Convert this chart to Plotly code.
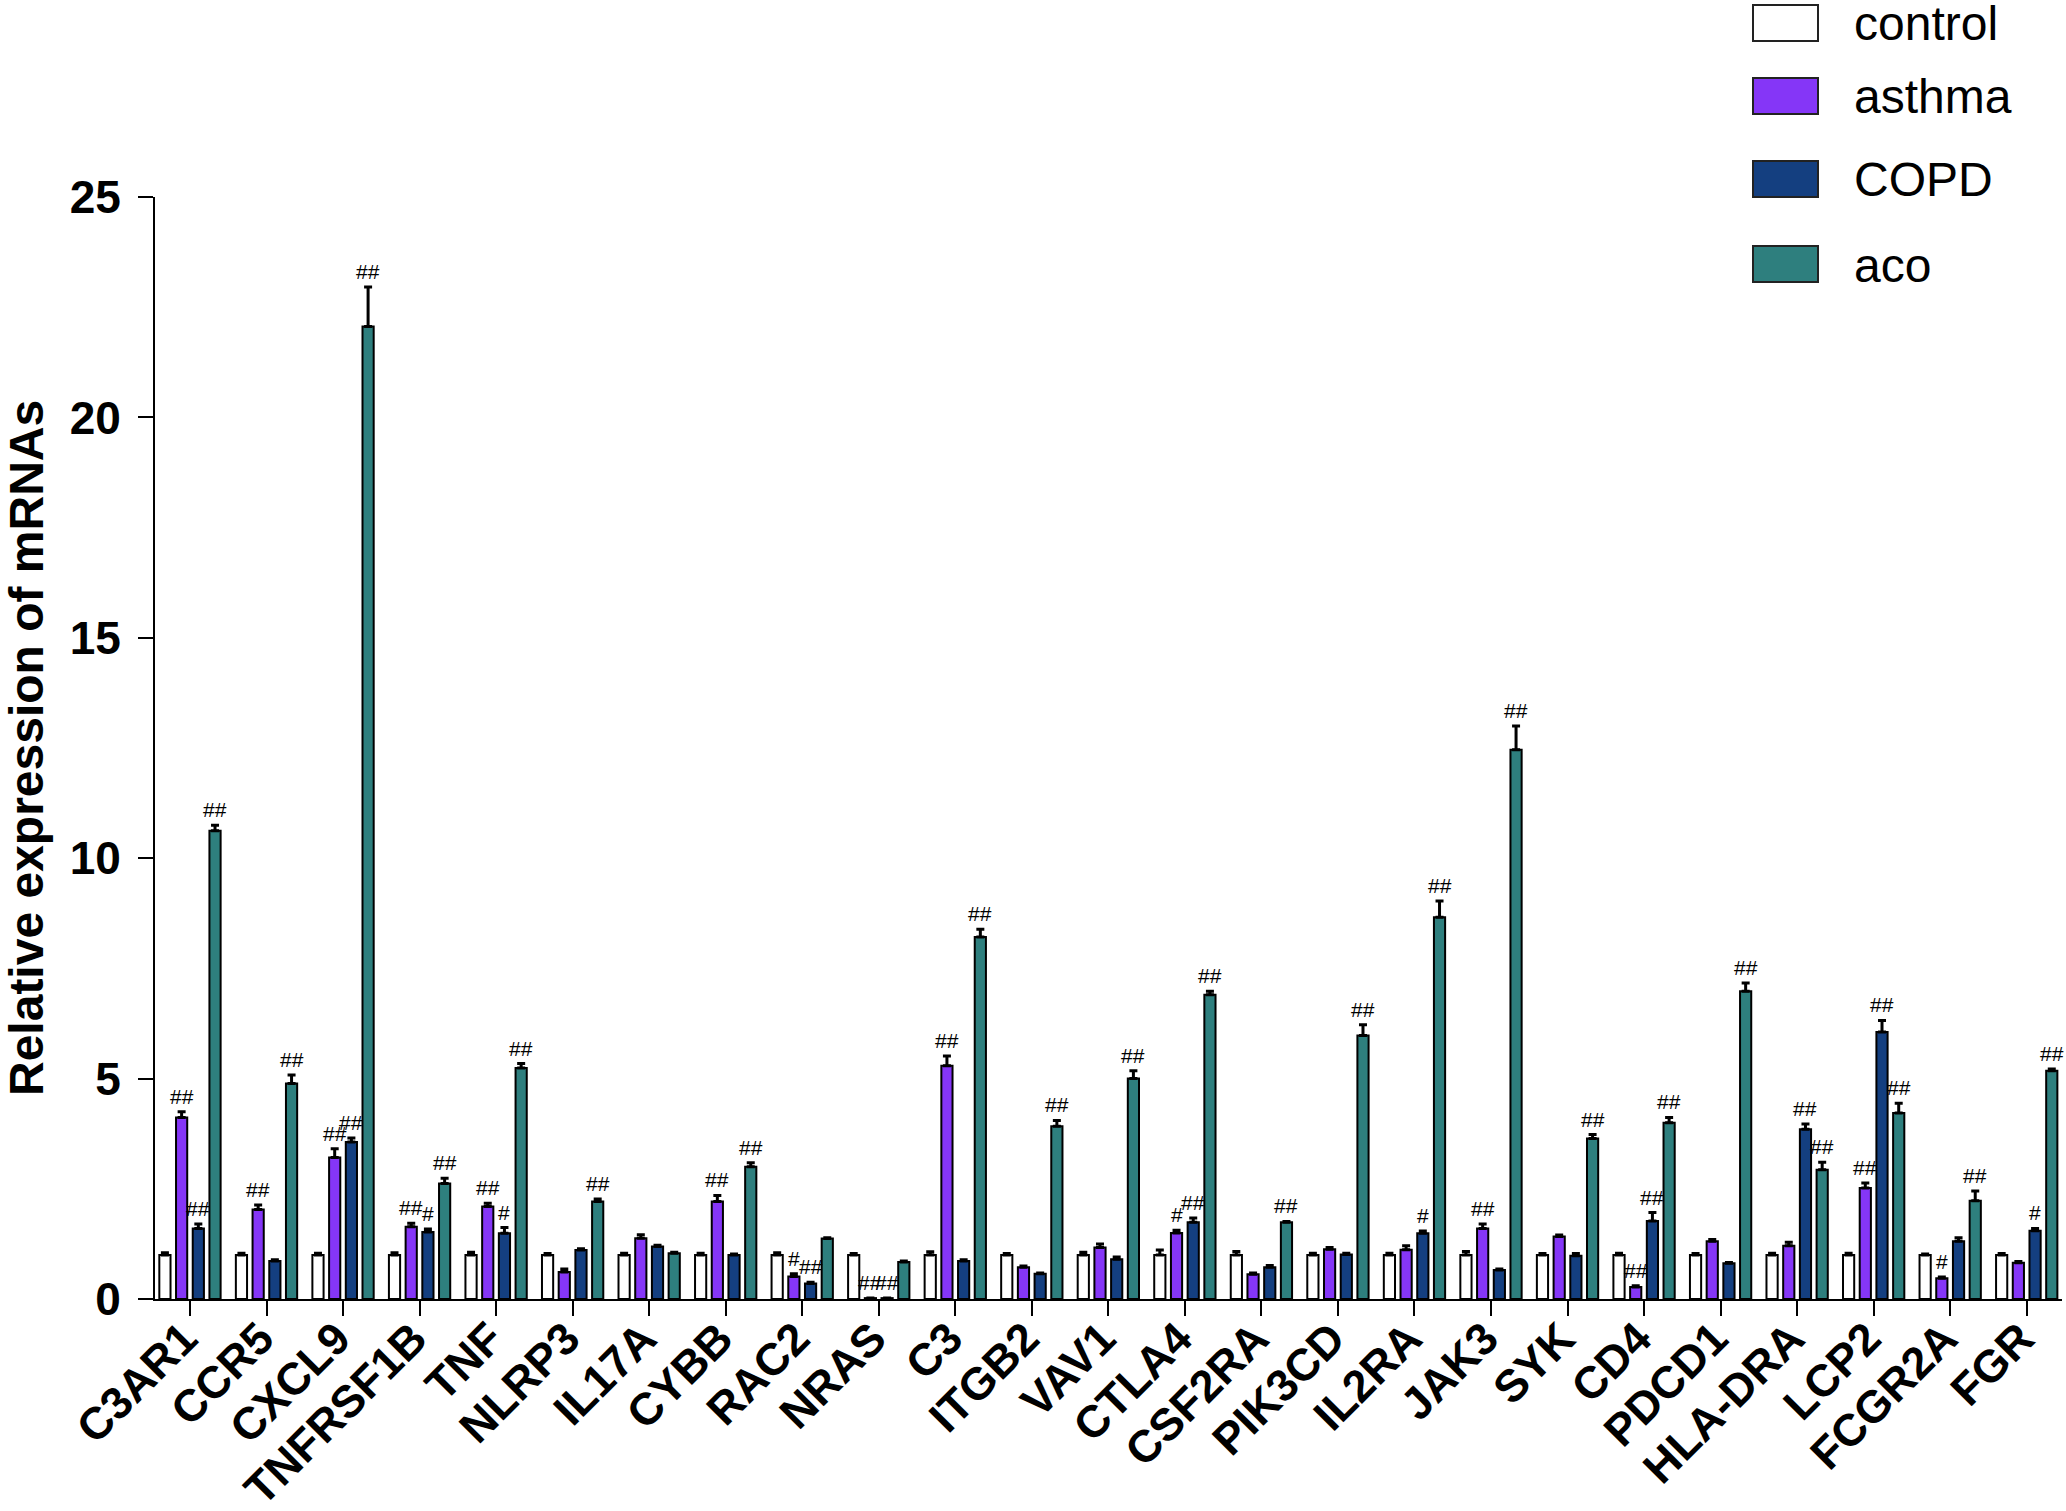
import plotly.graph_objects as go

genes = ["C3AR1", "CCR5", "CXCL9", "TNFRSF1B", "TNF", "NLRP3", "IL17A", "CYBB", "RAC2",
         "NRAS", "C3", "ITGB2", "VAV1", "CTLA4", "CSF2RA", "PIK3CD", "IL2RA", "JAK3",
         "SYK", "CD4", "PDCD1", "HLA-DRA", "LCP2", "FCGR2A", "FGR"]

groups = ["control", "asthma", "COPD", "aco"]

control = [1.0] * 25
control_err = [0.05, 0.04, 0.04, 0.05, 0.06, 0.03, 0.04, 0.04, 0.05, 0.03, 0.07, 0.03, 0.06,
               0.11, 0.08, 0.04, 0.04, 0.08, 0.03, 0.04, 0.03, 0.04, 0.04, 0.02, 0.03]

asthma = [4.12, 2.03, 3.21, 1.64, 2.10, 0.61, 1.38, 2.21, 0.51, 0.02, 5.29, 0.72, 1.17,
          1.50, 0.56, 1.13, 1.12, 1.60, 1.42, 0.27, 1.31, 1.21, 2.52, 0.47, 0.82]
asthma_err = [0.13, 0.10, 0.20, 0.08, 0.07, 0.07, 0.08, 0.14, 0.06, 0.0, 0.22, 0.03, 0.08,
              0.06, 0.03, 0.04, 0.09, 0.10, 0.03, 0.03, 0.04, 0.08, 0.11, 0.03, 0.03]

copd = [1.60, 0.86, 3.56, 1.52, 1.49, 1.11, 1.19, 1.00, 0.35, 0.02, 0.86, 0.57, 0.90,
        1.74, 0.72, 1.01, 1.49, 0.66, 0.98, 1.77, 0.81, 3.85, 6.06, 1.31, 1.55]
copd_err = [0.10, 0.03, 0.09, 0.07, 0.13, 0.03, 0.03, 0.02, 0.03, 0.0, 0.03, 0.02, 0.05,
            0.10, 0.04, 0.03, 0.05, 0.02, 0.05, 0.19, 0.02, 0.12, 0.26, 0.08, 0.05]

aco = [10.62, 4.89, 22.06, 2.62, 5.24, 2.21, 1.04, 3.00, 1.37, 0.84, 8.21, 3.92, 5.00,
       6.90, 1.74, 5.98, 8.66, 12.46, 3.64, 4.00, 6.98, 2.93, 4.22, 2.23, 5.18]
aco_err = [0.13, 0.19, 0.90, 0.12, 0.10, 0.06, 0.02, 0.09, 0.02, 0.02, 0.18, 0.13, 0.18,
           0.08, 0.02, 0.24, 0.37, 0.54, 0.09, 0.12, 0.19, 0.17, 0.22, 0.22, 0.04]

# significance marks vs control
control_sig = [""] * 25
asthma_sig = ["##", "##", "##", "##", "##", "", "", "##", "#", "##", "##", "", "",
              "#", "", "", "", "##", "", "##", "", "", "##", "#", ""]
copd_sig = ["##", "", "##", "#", "#", "", "", "", "##", "##", "", "", "",
            "##", "", "", "#", "", "", "##", "", "##", "##", "", "#"]
aco_sig = ["##", "##", "##", "##", "##", "##", "", "##", "", "", "##", "##", "##",
           "##", "##", "##", "##", "##", "##", "##", "##", "##", "##", "##", "##"]

colors = ["#FFFFFF", "#8536F7", "#143F80", "#2E7F7E"]
series = [(control, control_err, control_sig), (asthma, asthma_err, asthma_sig),
          (copd, copd_err, copd_sig), (aco, aco_err, aco_sig)]

W, H = 2066, 1511
L, R, T, B = 155, 4, 197, 212
font = "Arial, Liberation Sans, sans-serif"

bargap = 0.127
slot = (1 - bargap) / 4

fig = go.Figure()
annotations = []
for j, (name, (vals, errs, sig)) in enumerate(zip(groups, series)):
    fig.add_trace(go.Bar(
        x=genes, y=vals, name=name, showlegend=False,
        marker=dict(color=colors[j], line=dict(color="black", width=2)),
        error_y=dict(type="data", array=errs, arrayminus=[0] * len(errs), symmetric=False,
                     color="black", thickness=3, width=4),
    ))
    for i, s in enumerate(sig):
        if s:
            annotations.append(dict(
                x=i + (j - 1.5) * slot, y=vals[i] + errs[i], xref="x", yref="y",
                text=s, showarrow=False, yanchor="bottom", yshift=2,
                font=dict(family=font, size=21, color="black")))

# y axis title
annotations.append(dict(
    x=0, y=0.5, xref="paper", yref="paper", xshift=-129, textangle=-90,
    text="Relative expression of mRNAs", showarrow=False, xanchor="center", yanchor="middle",
    font=dict(family=font, size=48, color="black", weight="bold")))

# legend drawn by hand to match the large swatches
pw, ph = W - L - R, H - T - B
def px(x):
    return (x - L) / pw
def py(y):
    return (H - B - y) / ph

shapes = []
row_tops = [5, 78, 161, 246]
for j, name in enumerate(groups):
    y0 = row_tops[j]
    shapes.append(dict(type="rect", xref="paper", yref="paper",
                       x0=px(1753), x1=px(1818), y0=py(y0 + 36), y1=py(y0),
                       fillcolor=colors[j], line=dict(color="#222222", width=2)))
    annotations.append(dict(x=px(1852), y=py(y0 + 19), xref="paper", yref="paper",
                            text=name, showarrow=False, xanchor="left", yanchor="middle",
                            font=dict(family=font, size=48, color="black")))

fig.update_layout(
    width=W, height=H,
    margin=dict(l=L, r=R, t=T, b=B, autoexpand=False),
    paper_bgcolor="white", plot_bgcolor="white",
    barmode="group", bargap=bargap, bargroupgap=0.33,
    annotations=annotations, shapes=shapes,
    font=dict(family=font, color="black"),
)
fig.update_xaxes(
    type="category", range=[-0.457, 24.461],
    showline=True, linecolor="black", linewidth=2,
    ticks="outside", ticklen=15, tickwidth=2, tickcolor="black",
    tickangle=-45, tickfont=dict(family=font, size=45, color="black", weight="bold"),
    ticklabelstandoff=-22, ticklabelshift=-6,
    showgrid=False, zeroline=False, automargin=False,
)
fig.update_yaxes(
    range=[0, 25], tickvals=[0, 5, 10, 15, 20, 25],
    showline=True, linecolor="black", linewidth=2,
    ticks="outside", ticklen=15, tickwidth=2, tickcolor="black",
    tickfont=dict(family=font, size=46, color="black", weight="bold"),
    ticklabelstandoff=8,
    showgrid=False, zeroline=False, automargin=False,
)

# page margin off so the figure fills the window exactly
fig.write_html("out.html", config={"displayModeBar": False},
               post_script="document.body.style.margin='0';document.body.style.overflow='hidden';")
